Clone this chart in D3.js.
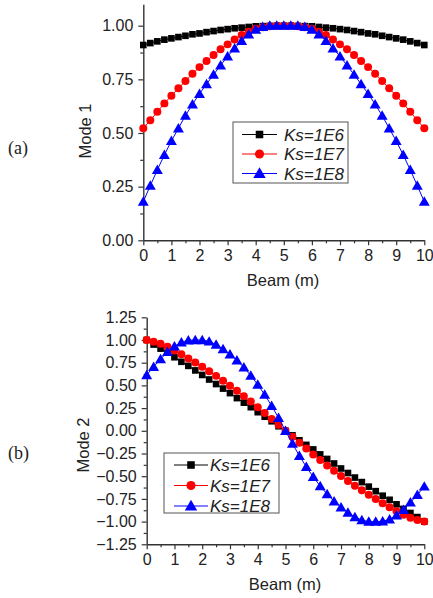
<!DOCTYPE html>
<html>
<head>
<meta charset="utf-8">
<script src="https://cdn.jsdelivr.net/npm/d3@7/dist/d3.min.js"></script>
<style>
  html, body { margin: 0; padding: 0; background: #fff; }
  svg { display: block; }
  text { font-family: "Liberation Sans", Arial, sans-serif; fill: #222; }
</style>
</head>
<body>
<svg id="chart" width="433" height="598"></svg>
<script>
// ---------- DATA ----------
const beamX = [0,0.25,0.5,0.75,1,1.25,1.5,1.75,2,2.25,2.5,2.75,3,3.25,3.5,3.75,4,4.25,4.5,4.75,5,
               5.25,5.5,5.75,6,6.25,6.5,6.75,7,7.25,7.5,7.75,8,8.25,8.5,8.75,9,9.25,9.5,9.75,10];
const seriesNames = ["Ks=1E6", "Ks=1E7", "Ks=1E8"];

const mode1_Ks1E6 = [0.910,0.919,0.927,0.935,0.941,0.947,0.953,0.960,0.964,0.970,0.975,0.980,0.984,0.988,0.991,0.994,0.997,0.998,0.999,1.000,1.000,
                     1.000,0.999,0.998,0.997,0.994,0.991,0.988,0.984,0.980,0.975,0.970,0.964,0.960,0.953,0.947,0.941,0.935,0.927,0.919,0.910];
const mode1_Ks1E7 = [0.522,0.559,0.599,0.638,0.674,0.708,0.742,0.776,0.807,0.835,0.863,0.890,0.913,0.936,0.957,0.972,0.986,0.993,0.997,1.000,1.000,
                     1.000,0.997,0.993,0.986,0.972,0.957,0.936,0.913,0.890,0.863,0.835,0.807,0.776,0.742,0.708,0.674,0.638,0.599,0.559,0.522];
const mode1_Ks1E8 = [0.180,0.255,0.328,0.398,0.463,0.522,0.581,0.634,0.683,0.728,0.772,0.815,0.857,0.895,0.930,0.960,0.982,0.995,1.000,1.000,1.000,
                     1.000,1.000,0.995,0.982,0.960,0.930,0.895,0.857,0.815,0.772,0.728,0.683,0.634,0.581,0.522,0.463,0.398,0.328,0.255,0.180];

const mode2_Ks1E6 = [1.000,0.950,0.905,0.860,0.810,0.760,0.715,0.665,0.615,0.565,0.515,0.465,0.415,0.360,0.310,0.260,0.205,0.155,0.105,0.050,0.000,
                     -0.050,-0.105,-0.155,-0.205,-0.260,-0.310,-0.360,-0.415,-0.465,-0.515,-0.565,-0.615,-0.665,-0.715,-0.760,-0.810,-0.860,-0.905,-0.950,-1.000];
const mode2_Ks1E7 = [1.000,0.982,0.958,0.925,0.885,0.842,0.797,0.752,0.705,0.655,0.605,0.552,0.497,0.440,0.382,0.322,0.260,0.196,0.131,0.066,0.000,
                     -0.066,-0.131,-0.196,-0.260,-0.322,-0.382,-0.440,-0.497,-0.552,-0.605,-0.655,-0.705,-0.752,-0.797,-0.842,-0.885,-0.925,-0.958,-0.982,-1.000];
const mode2_Ks1E8 = [0.613,0.705,0.789,0.870,0.930,0.975,0.997,1.000,1.000,0.984,0.950,0.900,0.842,0.776,0.698,0.608,0.508,0.398,0.275,0.142,0.000,
                     -0.142,-0.275,-0.398,-0.508,-0.608,-0.698,-0.776,-0.842,-0.900,-0.950,-0.984,-1.000,-1.000,-0.997,-0.975,-0.930,-0.870,-0.789,-0.705,-0.613];

const xTicks = [0,1,2,3,4,5,6,7,8,9,10];
const mode1Ticks = [0,0.25,0.5,0.75,1.0];
const mode2Ticks = [-1.25,-1,-0.75,-0.5,-0.25,0,0.25,0.5,0.75,1,1.25];

// ---------- STYLE ----------
const colors = ["#000000", "#ff0000", "#0000ff"];
const shapes = [d3.symbolSquare, d3.symbolCircle, d3.symbolTriangle];
const sizes = [44, 50, 52];
const FONT = "'Liberation Sans', Arial, sans-serif";

const svg = d3.select("#chart");

function drawPanel(cfg) {
  const g = svg.append("g");
  const x = d3.scaleLinear().domain([0, 10]).range([cfg.left, cfg.right]);
  const y = d3.scaleLinear().domain(cfg.yDomain).range([cfg.bottom, cfg.top]);

  const xMinor = d3.range(0.5, 10, 1);
  const yMinor = cfg.yMinor;

  const axStyle = sel => {
    sel.selectAll("path").attr("stroke", "#333").attr("stroke-width", 1.4);
    sel.selectAll("line").attr("stroke", "#333").attr("stroke-width", 1.2);
    sel.selectAll("text").attr("font-size", 16).attr("fill", "#222")
      .attr("font-family", FONT);
  };

  g.append("g").attr("transform", `translate(0,${cfg.bottom})`)
    .call(d3.axisBottom(x).tickValues(xMinor).tickSize(3).tickFormat(""))
    .call(axStyle).select("path").remove();
  g.append("g").attr("transform", `translate(${cfg.left},0)`)
    .call(d3.axisLeft(y).tickValues(yMinor).tickSize(3).tickFormat(""))
    .call(axStyle).select("path").remove();

  g.append("g").attr("transform", `translate(0,${cfg.bottom})`)
    .call(d3.axisBottom(x).tickValues(xTicks).tickSize(5).tickSizeOuter(0).tickPadding(4).tickFormat(d3.format("d")))
    .call(axStyle);
  g.append("g").attr("transform", `translate(${cfg.left},0)`)
    .call(d3.axisLeft(y).tickValues(cfg.yTicks).tickSize(5).tickSizeOuter(0).tickPadding(5).tickFormat(d3.format(".2f")))
    .call(axStyle);

  // series
  const line = d3.line().x((d, i) => x(beamX[i])).y(d => y(d));
  cfg.series.forEach((s, k) => {
    g.append("path").datum(s).attr("d", line)
      .attr("fill", "none").attr("stroke", colors[k]).attr("stroke-width", 1);
    g.selectAll(null).data(s).enter().append("path")
      .attr("d", d3.symbol().type(shapes[k]).size(sizes[k]))
      .attr("transform", (d, i) => `translate(${x(beamX[i])},${y(d) + (k === 2 ? 1 : 0)})`)
      .attr("fill", colors[k]);
  });

  // axis titles
  g.append("text").attr("x", cfg.xTitleX).attr("y", cfg.xTitleY)
    .attr("text-anchor", "middle").attr("font-size", 16.5).text("Beam (m)");
  g.append("text").attr("transform", `translate(${cfg.yTitleX},${cfg.yTitleY}) rotate(-90)`)
    .attr("text-anchor", "middle").attr("font-size", 16.5).text(cfg.yTitle);
  g.append("text").attr("x", 8).attr("y", cfg.tagY)
    .attr("font-size", 18).style("font-family", "'Liberation Serif', 'Times New Roman', serif")
    .text(cfg.tag);

  // legend
  const L = cfg.legend;
  g.append("rect").attr("x", L.x).attr("y", L.y).attr("width", L.w).attr("height", L.h)
    .attr("fill", "#fff").attr("stroke", "#555").attr("stroke-width", 1);
  seriesNames.forEach((name, k) => {
    const yy = L.y + L.first + k * L.step;
    g.append("line").attr("x1", L.x + L.l1).attr("x2", L.x + L.l2).attr("y1", yy).attr("y2", yy)
      .attr("stroke", colors[k]).attr("stroke-width", 1);
    g.append("path").attr("d", d3.symbol().type(shapes[k]).size(sizes[k] * 1.3)())
      .attr("transform", `translate(${L.x + (L.l1 + L.l2) / 2},${yy + (k === 2 ? 1 : 0)})`)
      .attr("fill", colors[k]);
    g.append("text").attr("x", L.x + L.tx).attr("y", yy + 6)
      .attr("font-size", 17).attr("font-style", "italic").text(name);
  });
}

drawPanel({
  left: 143.3, right: 424.3, bottom: 240.3, top: 240.3 - 214.6 * 1.1,
  yDomain: [0, 1.1], yTicks: mode1Ticks,
  yMinor: [0.125, 0.375, 0.625, 0.875],
  series: [mode1_Ks1E6, mode1_Ks1E7, mode1_Ks1E8],
  xTitleX: 283, xTitleY: 286, yTitleX: 91, yTitleY: 131, yTitle: "Mode 1",
  tag: "(a)", tagY: 154,
  legend: {x: 233, y: 122, w: 115, h: 61, first: 12.5, step: 19.5, l1: 9, l2: 44, tx: 51}
});

drawPanel({
  left: 146.7, right: 424.3, bottom: 544.3, top: 317.3,
  yDomain: [-1.25, 1.25], yTicks: mode2Ticks,
  yMinor: d3.range(-1.125, 1.25, 0.25),
  series: [mode2_Ks1E6, mode2_Ks1E7, mode2_Ks1E8],
  xTitleX: 285, xTitleY: 590, yTitleX: 89, yTitleY: 445, yTitle: "Mode  2",
  tag: "(b)", tagY: 459,
  legend: {x: 164, y: 453, w: 115, h: 60, first: 12, step: 20.5, l1: 10, l2: 44, tx: 46}
});
</script>
</body>
</html>
